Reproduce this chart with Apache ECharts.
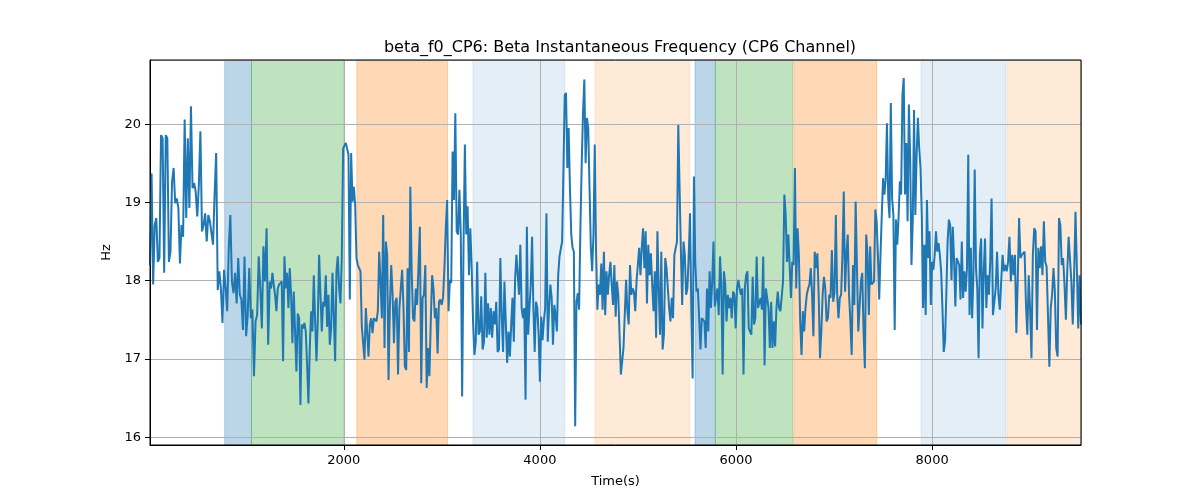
<!DOCTYPE html>
<html>
<head>
<meta charset="utf-8">
<script src="https://cdn.jsdelivr.net/npm/echarts@6/dist/echarts.min.js"></script>
<style>
  html, body { margin: 0; padding: 0; background: #fff; }
  #chart { width: 1200px; height: 500px; }
</style>
</head>
<body>
<div id="chart"></div>
<script>
//--------------------------------
// Data
//--------------------------------
// time (s) boundaries of the traced pieces; values in each piece are evenly spaced
const segBounds = [24, 1245, 2470, 3694, 4919, 6143, 7368, 8592, 9518];

const seg1 = [18.20,19.37,17.95,18.71,18.80,18.24,18.29,19.86,19.82,18.10,19.86,19.82,18.24,18.37,19.27,19.44,18.99,19.05,18.93,18.22,
  18.71,18.56,20.06,18.80,19.82,18.93,20.23,19.18,19.25,19.14,18.82,19.22,19.91,18.63,18.71,18.86,18.50,18.84,18.76,18.78,
  18.46,19.10,19.63,17.88,18.12,17.90,17.46,18.14,17.90,17.61,18.42,18.84,17.99,17.84,18.10,17.71,18.29,17.82,17.76,17.37,
  18.31,17.29,17.56,18.16,17.52,17.63,16.78,17.48,17.56,18.31,17.90,17.39,18.44,17.99,18.67,17.18];
const seg2 = [17.99,17.90,18.10,17.95,17.82,17.61,17.90,17.95,17.97,17.99,16.97,18.31,17.90,18.10,17.65,18.16,17.82,17.20,17.86,17.84,
  16.84,17.58,17.52,16.41,17.44,17.39,17.46,17.35,16.92,16.43,17.14,17.61,17.35,18.07,17.50,16.97,17.48,18.33,17.82,17.35,
  17.73,17.67,18.07,17.41,17.82,17.18,17.39,18.10,17.56,16.97,18.12,18.31,17.90,17.71,18.31,19.69,19.71,19.76,19.76,19.61,
  17.76,19.63,19.01,19.20,18.97,18.29,18.20,18.18,18.12,17.41,17.39,16.99,17.65,17.67,17.03,17.44,17.52,17.33,17.52,17.50,
  17.48,17.61,18.37,17.99,17.52,18.84,17.14,18.50,18.33,16.73];
const seg3 = [17.65,18.20,17.82,17.20,17.73,17.78,16.80,17.65,17.90,18.14,17.65,16.90,16.86,18.16,17.09,19.20,18.12,17.52,17.48,17.90,
  17.69,17.69,18.69,16.69,17.78,17.82,18.20,16.63,17.14,16.78,17.48,18.07,17.90,17.52,17.65,17.07,17.73,17.76,17.69,17.78,
  18.16,18.67,19.03,17.61,18.01,17.97,19.65,19.03,20.14,18.63,18.59,19.16,18.59,16.52,18.42,19.74,18.59,18.95,18.07,18.67,
  18.16,17.48,17.05,17.22,18.24,17.31,17.35,17.80,17.12,17.22,18.10,17.27,17.71,17.31,17.65,17.27,17.61,17.44,17.73,17.09,
  17.12,18.29,17.56,17.09,17.99,17.99,16.95,17.35];
const seg4 = [17.03,17.44,17.78,17.22,18.03,18.33,18.35,17.82,18.46,17.65,17.52,17.65,16.48,18.69,17.31,17.65,17.95,18.56,17.65,17.09,
  17.73,17.65,17.31,16.71,17.54,17.24,17.48,17.65,18.86,17.22,17.65,17.95,17.78,17.18,17.69,17.56,17.35,18.07,18.31,18.33,
  18.50,19.40,20.37,20.40,19.44,19.95,19.18,18.59,18.42,18.37,16.14,17.73,17.84,17.63,18.67,19.48,20.14,20.57,19.50,20.08,
  19.95,19.18,18.42,18.12,18.59,19.74,18.37,17.63,17.95,17.82,18.22,17.63,18.37,17.56,18.12,17.82,18.07,18.24,17.95,17.69,
  18.20,17.54,17.99,17.82,17.31,16.80,16.97,17.14,17.14,18.01,17.61,17.44];
const seg5 = [18.20,17.82,17.90,17.86,17.61,17.99,18.20,18.42,18.07,18.42,18.67,18.16,18.63,17.71,18.46,18.07,18.35,17.95,17.61,18.12,
  17.27,18.63,17.90,17.31,18.37,17.12,17.31,18.29,18.16,17.90,17.65,17.48,17.78,17.52,18.33,18.31,18.50,19.99,19.99,18.37,
  17.69,18.50,18.33,17.82,17.90,18.33,18.86,17.61,16.75,19.33,18.24,17.86,17.90,17.52,17.12,17.52,17.52,17.48,17.14,17.90,
  17.35,18.12,17.65,17.99,18.50,17.67,17.69,17.90,17.56,18.31,17.95,16.80,18.12,17.95,17.48,17.82,17.65,17.78,17.52,17.86,
  17.82,17.39,17.90,18.01,17.90,17.82,17.90,16.80,17.90,18.07,18.12,17.39];
const seg6 = [17.39,17.31,18.05,17.44,17.52,18.31,17.65,17.65,17.78,17.63,18.31,16.92,17.90,17.90,17.65,17.14,17.73,17.14,17.48,17.16,
  17.65,17.86,17.65,17.61,17.61,17.99,19.10,18.84,18.24,18.59,18.20,17.78,18.24,18.20,19.44,17.90,18.67,18.33,17.48,17.05,
  17.61,17.35,17.65,17.82,17.90,17.95,18.16,17.82,17.29,18.37,18.16,18.35,17.82,17.01,17.35,17.82,18.05,17.90,17.48,17.52,
  17.82,17.78,18.39,17.73,17.86,18.84,17.82,17.52,17.78,17.82,18.33,19.14,17.86,18.33,18.59,17.82,17.48,17.05,18.20,17.69,
  19.01,18.16,17.35,17.37,17.99,18.10,17.35,16.88,18.59,18.33,17.56];
const seg7 = [18.44,17.95,17.97,17.99,18.91,18.76,18.33,17.76,18.33,18.84,19.31,19.10,19.29,20.01,19.05,18.80,20.27,19.05,18.84,17.37,
  18.78,18.46,18.80,19.27,19.10,20.37,20.59,19.10,19.76,18.76,20.25,19.57,18.20,18.76,20.18,18.84,19.61,20.08,19.69,19.44,
  18.84,17.65,18.46,17.56,19.03,18.29,18.63,17.69,18.24,18.14,18.33,18.63,18.37,18.48,18.33,18.12,17.65,17.09,17.22,17.82,
  18.50,18.78,18.71,18.01,18.69,18.27,17.67,18.29,18.27,18.20,17.76,18.50,17.78,18.12,17.86,18.16,19.61,17.56,18.42,17.52,
  18.07,19.42,18.16,17.90,17.01,18.33,18.54,17.39,18.12,18.54,17.65,18.07,17.82];
const seg8 = [18.24,19.05,17.56,17.56,17.90,18.37,17.82,17.63,17.99,18.33,18.12,18.20,18.12,18.24,18.56,17.99,18.33,18.07,18.33,17.33,
  17.99,18.80,18.29,18.33,18.33,18.37,17.69,17.31,18.07,17.63,17.01,18.33,18.67,18.63,17.37,18.42,18.16,18.44,18.07,18.76,
  18.24,18.18,17.56,16.90,17.65,17.82,18.16,17.86,17.14,17.03,18.80,18.71,18.20,18.29,17.95,17.50,18.12,18.56,18.56,17.99,
  17.44,18.07,18.88,18.16,17.39,18.07,17.44];

// shaded time bands and their group (0..4)
const bandStart = [786, 1059, 2133, 3317, 4562, 5582, 5789, 6590, 7888, 8766];
const bandEnd   = [1059, 2003, 3059, 4253, 5528, 5789, 6580, 7436, 8753, 9518];
const bandGroup = [0, 1, 2, 3, 4, 0, 1, 2, 3, 4];

const xMin = 24, xMax = 9518;
const yMin = 15.9, yMax = 20.82;

//--------------------------------
// Build
//--------------------------------
const segs = [seg1, seg2, seg3, seg4, seg5, seg6, seg7, seg8];
const lineData = [];
segs.forEach((vals, k) => {
    const t0 = segBounds[k], t1 = segBounds[k + 1];
    const last = k === segs.length - 1;
    const step = (t1 - t0) / (last ? vals.length - 1 : vals.length);
    vals.forEach((v, j) => lineData.push([t0 + j * step, v]));
});

const groupColor = [
    'rgba(31,119,180,0.3)',
    'rgba(44,160,44,0.3)',
    'rgba(255,127,14,0.3)',
    'rgba(31,119,180,0.12)',
    'rgba(255,127,14,0.16)'
];
const areas = bandStart.map((s, i) => [
    { xAxis: s, itemStyle: { color: groupColor[bandGroup[i]], borderColor: groupColor[bandGroup[i]], borderWidth: 1 } },
    { xAxis: bandEnd[i] }
]);

const font = 'DejaVu Sans';
const myChart = echarts.init(document.getElementById('chart'));
const options = {
    animation: false,
    title: {
        text: 'beta_f0_CP6: Beta Instantaneous Frequency (CP6 Channel)',
        left: 615,
        top: 35,
        textAlign: 'center',
        textStyle: { fontFamily: font, fontSize: 16, fontWeight: 'normal', color: '#000' }
    },
    grid: {
        left: 150, right: 119, top: 60, bottom: 55,
        show: true, borderColor: '#000', borderWidth: 1,
        backgroundColor: 'transparent', z: 3
    },
    xAxis: {
        type: 'value',
        min: xMin, max: xMax,
        z: 1.5,
        name: 'Time(s)',
        nameLocation: 'middle',
        nameGap: 30,
        nameTextStyle: { fontFamily: font, fontSize: 13, color: '#000' },
        axisLine: { lineStyle: { color: '#000', width: 1 } },
        axisTick: { inside: false, length: 5, lineStyle: { color: '#000' } },
        axisLabel: {
            fontFamily: font, fontSize: 13, color: '#000', margin: 9,
            showMinLabel: false, showMaxLabel: false,
            formatter: v => (v % 2000 === 0 ? String(v) : '')
        },
        splitLine: { show: true, lineStyle: { color: '#b0b0b0', width: 1 } }
    },
    yAxis: {
        type: 'value',
        min: yMin, max: yMax,
        z: 1.5,
        name: 'Hz',
        nameLocation: 'middle',
        nameGap: 35,
        nameRotate: 90,
        nameTextStyle: { fontFamily: font, fontSize: 13, color: '#000' },
        axisLine: { show: true, lineStyle: { color: '#000', width: 1 } },
        axisTick: { show: true, inside: false, length: 5, lineStyle: { color: '#000' } },
        axisLabel: {
            fontFamily: font, fontSize: 13, color: '#000', margin: 9,
            showMinLabel: false, showMaxLabel: false,
            formatter: v => (Math.abs(v - Math.round(v)) < 1e-6 ? String(Math.round(v)) : '')
        },
        splitLine: { show: true, lineStyle: { color: '#b0b0b0', width: 1 } }
    },
    series: [
        {
            name: 'bands',
            type: 'line',
            data: [],
            z: 0,
            silent: true,
            markArea: { silent: true, z: 0, data: areas }
        },
        {
            name: 'beta_f0_CP6',
            type: 'line',
            data: lineData,
            z: 2,
            showSymbol: false,
            symbol: 'none',
            lineStyle: { color: '#1f77b4', width: 2 },
            itemStyle: { color: '#1f77b4' }
        }
    ]
};
myChart.setOption(options);
</script>
</body>
</html>
